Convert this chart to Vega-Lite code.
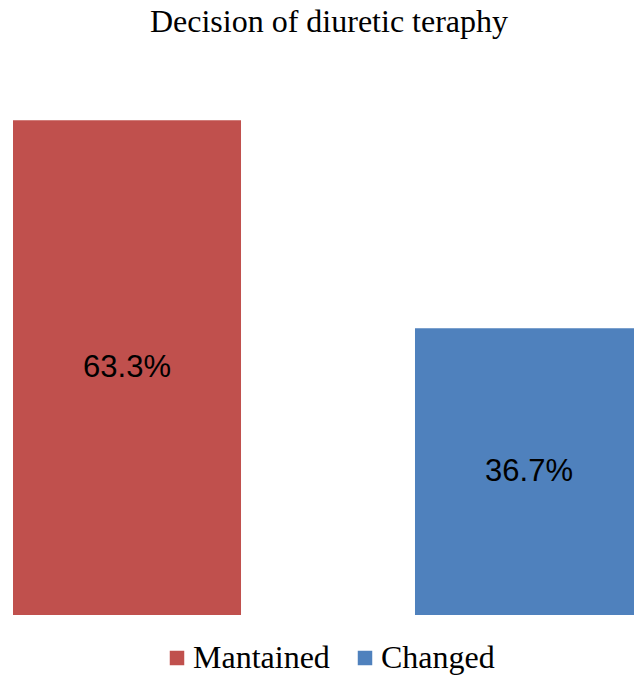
{
  "$schema": "https://vega.github.io/schema/vega-lite/v6.json",
  "autosize": {"type": "none"},
  "padding": {"left": 0, "top": 68, "right": 0, "bottom": 60},
  "width": 634,
  "height": 547,
  "background": "#ffffff",
  "title": {
    "text": "Decision of diuretic teraphy",
    "font": "Liberation Serif",
    "fontSize": 32,
    "fontWeight": "normal",
    "color": "#000000",
    "anchor": "middle",
    "baseline": "alphabetic",
    "dx": 12,
    "offset": 4
  },
  "data": {
    "values": [
      {"decision": "Mantained", "percent": 63.3, "label": "63.3%"},
      {"decision": "Changed", "percent": 36.7, "label": "36.7%"}
    ]
  },
  "encoding": {
    "x": {
      "field": "decision",
      "type": "nominal",
      "sort": ["Mantained", "Changed"],
      "scale": {"range": [13, 643], "paddingInner": 0.4328, "paddingOuter": 0},
      "axis": null
    }
  },
  "layer": [
    {
      "mark": {"type": "bar"},
      "encoding": {
        "y": {
          "field": "percent",
          "type": "quantitative",
          "scale": {"domain": [0, 70], "nice": false},
          "axis": null
        },
        "color": {
          "field": "decision",
          "type": "nominal",
          "sort": ["Mantained", "Changed"],
          "scale": {"domain": ["Mantained", "Changed"], "range": ["#C0504D", "#4F81BD"]},
          "legend": {
            "title": null,
            "orient": "none",
            "direction": "horizontal",
            "legendX": 161,
            "legendY": 574,
            "padding": 0,
            "symbolType": "square",
            "symbolSize": 210,
            "symbolStrokeWidth": 0,
            "labelFont": "Liberation Serif",
            "labelFontSize": 32,
            "labelColor": "#000000",
            "labelOffset": 0,
            "columnPadding": 19,
            "labelLimit": 0
          }
        }
      }
    },
    {
      "mark": {
        "type": "text",
        "font": "Liberation Sans",
        "fontSize": 31,
        "color": "#000000",
        "baseline": "middle",
        "align": "center"
      },
      "encoding": {
        "y": {
          "field": "percent",
          "type": "quantitative",
          "stack": "zero",
          "bandPosition": 0.5
        },
        "text": {"field": "label", "type": "nominal"}
      }
    }
  ],
  "config": {
    "view": {"stroke": null}
  }
}
